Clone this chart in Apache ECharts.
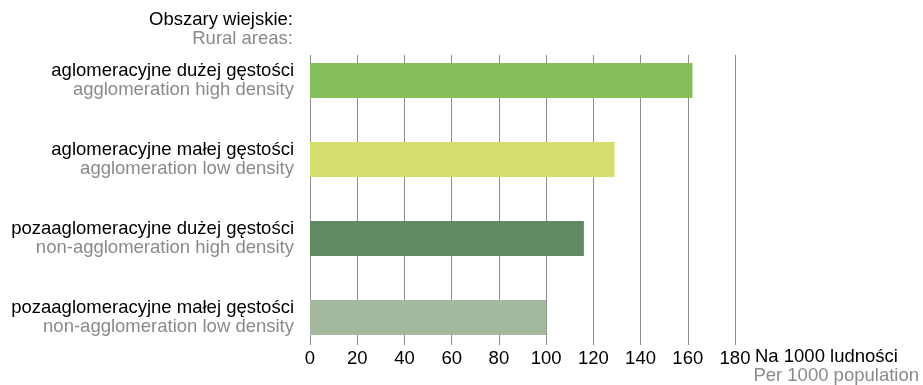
<!DOCTYPE html>
<html>
<head>
<meta charset="utf-8">
<script src="https://cdn.jsdelivr.net/npm/echarts@6/dist/echarts.min.js"></script>
<style>
  html, body { margin: 0; padding: 0; background: #fff; }
  #chart { width: 923px; height: 385px; }
</style>
</head>
<body>
<div id="chart"></div>
<script>
// categories: Polish label, English label
const categoriesPl = [
  "aglomeracyjne dużej gęstości",
  "aglomeracyjne małej gęstości",
  "pozaaglomeracyjne dużej gęstości",
  "pozaaglomeracyjne małej gęstości"
];
const categoriesEn = [
  "agglomeration high density",
  "agglomeration low density",
  "non-agglomeration high density",
  "non-agglomeration low density"
];
const values = [162, 129, 116, 100];
const barColors = ["#87bf5b", "#d6df6e", "#5f8a62", "#a3b89d"];

const font = "Liberation Sans, Arial, sans-serif";
const gray = "#8a8a8a";
const fs = 18.5;

const chart = echarts.init(document.getElementById("chart"));

chart.setOption({
  animation: false,
  textStyle: { fontFamily: font },
  grid: [
    { left: 310, right: 188, top: 41, bottom: 28 }, // bars
    { left: 310, right: 188, top: 55, bottom: 40 }  // gridlines + axis labels
  ],
  xAxis: [
    { gridIndex: 0, type: "value", min: 0, max: 180, interval: 20, show: false },
    {
      gridIndex: 1, type: "value", min: 0, max: 180, interval: 20,
      axisLine: { show: false },
      axisTick: { show: false },
      splitLine: { show: true, lineStyle: { color: "#8c8c8c", width: 1 } },
      axisLabel: { color: "#000", fontSize: fs, margin: 4, fontFamily: font }
    }
  ],
  yAxis: [
    {
      gridIndex: 0, type: "category", inverse: true,
      data: categoriesPl,
      axisLine: { show: false },
      axisTick: { show: false },
      axisLabel: {
        margin: 16,
        align: "right",
        formatter: (v, i) => "{pl|" + v + "}\n{en|" + categoriesEn[i] + "}",
        rich: {
          pl: { fontSize: fs, color: "#000", fontFamily: font, lineHeight: 19, align: "right" },
          en: { fontSize: fs, color: gray, fontFamily: font, lineHeight: 19, align: "right" }
        }
      }
    },
    { gridIndex: 1, type: "value", show: false }
  ],
  series: [
    {
      type: "bar",
      xAxisIndex: 0,
      yAxisIndex: 0,
      barWidth: 35,
      data: values.map((v, i) => ({ value: v, itemStyle: { color: barColors[i] } })),
      z: 3
    }
  ],
  graphic: [
    { type: "text", right: 630, top: 10, style: { text: "Obszary wiejskie:", fontSize: fs, fill: "#000", fontFamily: font, textAlign: "right" } },
    { type: "text", right: 630, top: 29, style: { text: "Rural areas:", fontSize: fs, fill: gray, fontFamily: font, textAlign: "right" } },
    { type: "text", left: 755, top: 347, style: { text: "Na 1000 ludności", fontSize: fs, fill: "#000", fontFamily: font } },
    { type: "text", right: 4, top: 366, style: { text: "Per 1000 population", fontSize: fs, fill: gray, fontFamily: font } }
  ]
});
</script>
</body>
</html>
